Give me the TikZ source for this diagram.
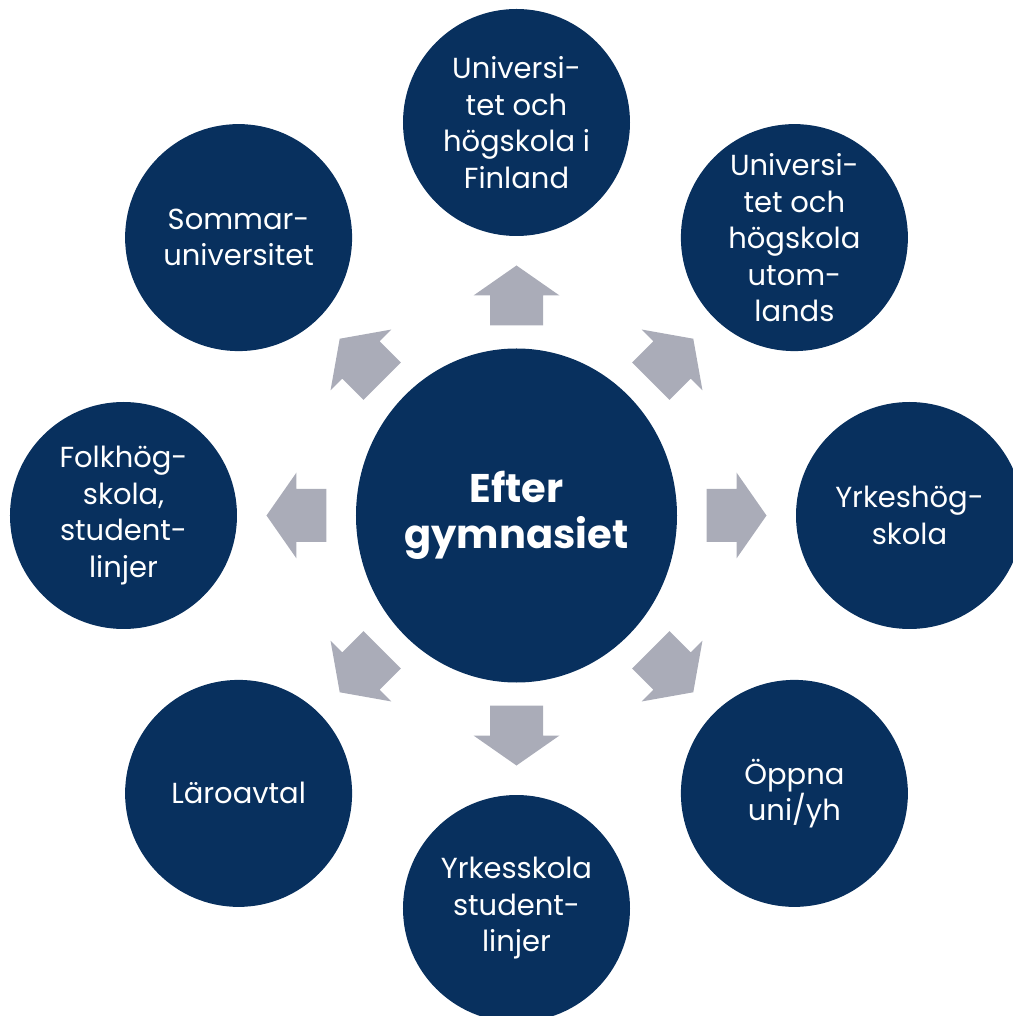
\documentclass[tikz,border=0pt]{standalone}
\usepackage{fontspec}
\setmainfont{Poppins}
\usetikzlibrary{positioning,shapes.geometric}
\definecolor{navy}{RGB}{8,48,94}
\definecolor{arrowgray}{RGB}{170,172,184}
\tikzset{
  hubcircle/.style={ellipse, fill=navy, text=white, minimum width=160.5pt, minimum height=167pt,
    inner sep=0pt, align=center, font=\bfseries\fontsize{20}{23.3}\selectfont},
  goalcircle/.style={circle, fill=navy, text=white, minimum size=113.5pt, inner sep=0pt,
    align=center, font=\fontsize{14.5}{18.25}\selectfont},
  blockarrow/.style={fill=arrowgray, draw=none},
}
% one grey block arrow pointing away from the hub
\newcommand{\hubarrow}[1]{%
  \fill[blockarrow, shift={(hub.center)}, rotate=#1]
    (190,-26.5) -- (220,-26.5) -- (220,-43) -- (250,0) -- (220,43)
    -- (220,26.5) -- (190,26.5) -- cycle;}
\begin{document}
\begin{tikzpicture}[x=0.5pt, y=0.5pt]
        \useasboundingbox (-516.5,-500.5) rectangle (495.5,515.5);
        \node[hubcircle] (hub) at (0,0) {Efter\\gymnasiet};
        \node[goalcircle] (uniFin)     at (90:393)   {Universi-\\tet och\\högskola i\\Finland};
        \node[goalcircle] (uniAbroad)  at (45:393)   {Universi-\\tet och\\högskola\\utom-\\lands};
        \node[goalcircle] (yrkeshog)   at (0:393)    {Yrkeshög-\\skola};
        \node[goalcircle] (oppna)      at (-45:393)  {Öppna\\uni/yh};
        \node[goalcircle] (yrkesskola) at (-90:393)  {Yrkesskola\\student-\\linjer};
        \node[goalcircle] (laroavtal)  at (-135:393) {Läroavtal};
        \node[goalcircle] (folkhog)    at (180:393)  {Folkhög-\\skola,\\student-\\linjer};
        \node[goalcircle] (sommar)     at (135:393)  {Sommar-\\universitet};
        \hubarrow{90}
        \hubarrow{45}
        \hubarrow{0}
        \hubarrow{-45}
        \hubarrow{-90}
        \hubarrow{-135}
        \hubarrow{180}
        \hubarrow{135}
\end{tikzpicture}
\end{document}
